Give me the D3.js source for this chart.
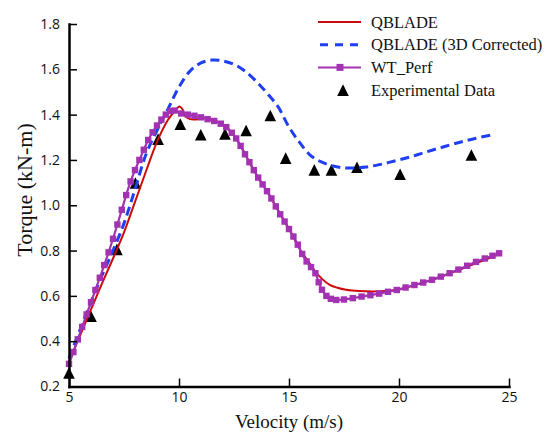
<!DOCTYPE html>
<html>
<head>
<meta charset="utf-8">
<script src="https://cdn.jsdelivr.net/npm/d3@7"></script>
<style>
  body { margin: 0; background: #fff; }
</style>
</head>
<body>
<div id="graph"></div>
<script>
// tick labels
const xTicks = [5, 10, 15, 20, 25];
const yTicks = [0.2, 0.4, 0.6, 0.8, 1.0, 1.2, 1.4, 1.6, 1.8];

const seriesNames = ['QBLADE', 'QBLADE (3D Corrected)', 'WT_Perf', 'Experimental Data'];

// [velocity m/s, torque kN-m]
const qblade = [
  [5, 0.31], [5.5, 0.425], [6, 0.54], [6.5, 0.655], [7, 0.765], [7.5, 0.88], [8, 1.015],
  [8.5, 1.15], [9, 1.28], [9.5, 1.377], [9.8, 1.415], [10.02, 1.436], [10.15, 1.425],
  [10.3, 1.392], [10.5, 1.38], [10.8, 1.379], [11.1, 1.386], [11.4, 1.383], [11.9, 1.36],
  [12.4, 1.32], [12.8, 1.262], [13.2, 1.19], [13.6, 1.122], [14, 1.062], [14.5, 0.978],
  [15, 0.895], [15.5, 0.805], [16, 0.735], [16.2, 0.707], [16.5, 0.675], [16.85, 0.649],
  [17.2, 0.636], [17.6, 0.627], [18.2, 0.621], [18.8, 0.619], [19.4, 0.621], [20, 0.628],
  [20.5, 0.641], [21, 0.656], [21.5, 0.671], [22, 0.688], [22.5, 0.706], [23, 0.725],
  [23.5, 0.744], [24, 0.763], [24.55, 0.784]
];

const qblade3d = [
  [5, 0.325], [5.5, 0.45], [6, 0.575], [6.5, 0.69], [7, 0.8], [7.5, 0.92], [8, 1.07],
  [8.5, 1.225], [9, 1.33], [9.5, 1.425], [10, 1.522], [10.5, 1.592], [11, 1.628],
  [11.5, 1.641], [12, 1.637], [12.5, 1.622], [13, 1.592], [13.5, 1.548], [14, 1.495],
  [14.5, 1.435], [15, 1.345], [15.5, 1.275], [16, 1.218], [16.5, 1.19], [17, 1.173],
  [17.5, 1.165], [18, 1.165], [18.5, 1.169], [19, 1.177], [19.5, 1.188], [20, 1.2],
  [20.5, 1.213], [21, 1.228], [21.5, 1.243], [22, 1.257], [22.5, 1.271], [23, 1.284],
  [23.5, 1.296], [24.2, 1.31]
];

const wtPerf = [
  [5, 0.3], [5.2, 0.352], [5.4, 0.408], [5.6, 0.463], [5.8, 0.518], [6, 0.572], [6.2, 0.626],
  [6.4, 0.68], [6.6, 0.736], [6.8, 0.792], [7, 0.852], [7.2, 0.915], [7.4, 0.98], [7.6, 1.045],
  [7.8, 1.105], [8, 1.155], [8.2, 1.2], [8.4, 1.245], [8.6, 1.288], [8.8, 1.322], [9, 1.352],
  [9.2, 1.378], [9.4, 1.4], [9.6, 1.416], [9.8, 1.418], [10.1, 1.405], [10.4, 1.4],
  [10.7, 1.395], [11, 1.388], [11.3, 1.38], [11.6, 1.372], [11.9, 1.36], [12.15, 1.345],
  [12.4, 1.32], [12.6, 1.295], [12.8, 1.262], [13, 1.225], [13.2, 1.19], [13.4, 1.155],
  [13.6, 1.122], [13.8, 1.092], [14, 1.062], [14.2, 1.03], [14.4, 0.995], [14.6, 0.96],
  [14.8, 0.928], [15, 0.895], [15.2, 0.862], [15.4, 0.826], [15.6, 0.785], [15.8, 0.752],
  [16, 0.727], [16.2, 0.7], [16.35, 0.66], [16.5, 0.627], [16.7, 0.6], [16.9, 0.587],
  [17.15, 0.582], [17.5, 0.584], [17.9, 0.59], [18.3, 0.597], [18.7, 0.603], [19.1, 0.61],
  [19.5, 0.618], [19.9, 0.626], [20.3, 0.637], [20.7, 0.648], [21.1, 0.659], [21.5, 0.671],
  [21.9, 0.685], [22.3, 0.7], [22.7, 0.716], [23.1, 0.733], [23.5, 0.75], [23.9, 0.765],
  [24.25, 0.777], [24.55, 0.788]
];

const experimental = [
  [5, 0.26], [6, 0.51], [7.18, 0.805], [8.02, 1.098], [9.05, 1.292], [10.06, 1.358],
  [10.99, 1.311], [12.09, 1.315], [13.05, 1.33], [14.15, 1.396], [14.85, 1.208],
  [16.15, 1.156], [16.93, 1.156], [18.09, 1.168], [20.05, 1.137], [23.29, 1.222]
];

const W = 547, H = 433;
const margin = { top: 24, right: 38, bottom: 46.5, left: 69 };
const width = W - margin.left - margin.right;
const height = H - margin.top - margin.bottom;

const red = '#cc0a0a', blue = '#1f3ff0', purple = '#a332b3';

let svg = d3.select('#graph').append('svg')
  .attr('width', W)
  .attr('height', H);

svg.append('rect').attr('width', W).attr('height', H).attr('fill', '#fff');

let xScale = d3.scaleLinear().domain([5, 25]).range([0, width]);
let yScale = d3.scaleLinear().domain([0.2, 1.8]).range([height, 0]);

let vis = svg.append('g')
  .attr('transform', 'translate(' + margin.left + ',' + margin.top + ')');

// triangle marker, a bit taller than equilateral
const tri = {
  draw(ctx, size) {
    const r = Math.sqrt(size) / 2;
    ctx.moveTo(0, -r);
    ctx.lineTo(r, r);
    ctx.lineTo(-r, r);
    ctx.closePath();
  }
};

// experimental points (under the lines)
vis.selectAll('.exp')
  .data(experimental)
  .join('path')
  .attr('class', 'exp')
  .attr('transform', (d) => 'translate(' + xScale(d[0]) + ',' + yScale(d[1]) + ')')
  .attr('d', d3.symbol(tri, 135))
  .attr('fill', '#000');

let line = d3.line()
  .x((d) => xScale(d[0]))
  .y((d) => yScale(d[1]))
  .curve(d3.curveCatmullRom);

// QBLADE
vis.append('path')
  .datum(qblade)
  .attr('fill', 'none')
  .attr('stroke', red)
  .attr('stroke-width', 2)
  .attr('d', line);

// QBLADE 3D corrected
vis.append('path')
  .datum(qblade3d)
  .attr('fill', 'none')
  .attr('stroke', blue)
  .attr('stroke-width', 3)
  .attr('stroke-dasharray', '9,5')
  .attr('d', line);

// WT_Perf
vis.append('path')
  .datum(wtPerf)
  .attr('fill', 'none')
  .attr('stroke', purple)
  .attr('stroke-width', 2.2)
  .attr('d', line);

vis.selectAll('.wt')
  .data(wtPerf)
  .join('rect')
  .attr('class', 'wt')
  .attr('x', (d) => xScale(d[0]) - 3.2)
  .attr('y', (d) => yScale(d[1]) - 3.2)
  .attr('width', 6.4)
  .attr('height', 6.4)
  .attr('fill', purple);

// axes
let xAxis = d3.axisBottom(xScale)
  .tickValues(xTicks)
  .tickFormat((x) => `${x.toFixed(0)}`)
  .tickSizeInner(-8)
  .tickSizeOuter(0)
  .tickPadding(6);

let yAxis = d3.axisLeft(yScale)
  .tickValues(yTicks)
  .tickFormat((y) => y.toFixed(1))
  .tickSizeInner(-8)
  .tickSizeOuter(0)
  .tickPadding(9);

let gx = vis.append('g')
  .attr('transform', 'translate(0,' + height + ')')
  .call(xAxis);

let gy = vis.append('g')
  .call(yAxis);

[gx, gy].forEach((g) => {
  g.select('.domain').attr('stroke', '#000').attr('stroke-width', 2.5).attr('stroke-linecap', 'square');
  g.selectAll('.tick line').attr('stroke', '#000').attr('stroke-width', 1.5);
  g.selectAll('.tick text')
    .attr('fill', '#111')
    .attr('font-family', 'Open Sans, sans-serif')
    .attr('font-size', 14);
});

// axis titles
svg.append('text')
  .attr('x', margin.left + width / 2)
  .attr('y', 428)
  .attr('text-anchor', 'middle')
  .attr('font-family', 'Liberation Serif, Times New Roman, serif')
  .attr('font-size', 19)
  .attr('fill', '#111')
  .text('Velocity (m/s)');

svg.append('text')
  .attr('transform', 'translate(32,190) rotate(-90)')
  .attr('text-anchor', 'middle')
  .attr('font-family', 'Liberation Serif, Times New Roman, serif')
  .attr('font-size', 22)
  .attr('fill', '#111')
  .text('Torque (kN-m)');

// legend
let legend = svg.append('g').attr('transform', 'translate(318,22)');
const rowH = 22.7;

seriesNames.forEach((name, i) => {
  let row = legend.append('g').attr('transform', 'translate(0,' + i * rowH + ')');
  if (i === 0) {
    row.append('line').attr('x1', 0).attr('x2', 43).attr('stroke', red).attr('stroke-width', 2);
  } else if (i === 1) {
    row.append('line').attr('x1', 2).attr('x2', 43).attr('stroke', blue).attr('stroke-width', 3)
      .attr('stroke-dasharray', '8,7');
  } else if (i === 2) {
    row.append('line').attr('x1', 0).attr('x2', 43).attr('stroke', purple).attr('stroke-width', 2);
    row.append('rect').attr('x', 18.5).attr('y', -3.5).attr('width', 7).attr('height', 7).attr('fill', purple);
  } else {
    row.append('path').attr('transform', 'translate(25,0)').attr('d', d3.symbol(tri, 135)).attr('fill', '#000');
  }
  row.append('text')
    .attr('x', 53)
    .attr('y', 5.5)
    .attr('font-family', 'Liberation Serif, Times New Roman, serif')
    .attr('font-size', 16.5)
    .attr('fill', '#111')
    .text(name);
});
</script>
</body>
</html>
